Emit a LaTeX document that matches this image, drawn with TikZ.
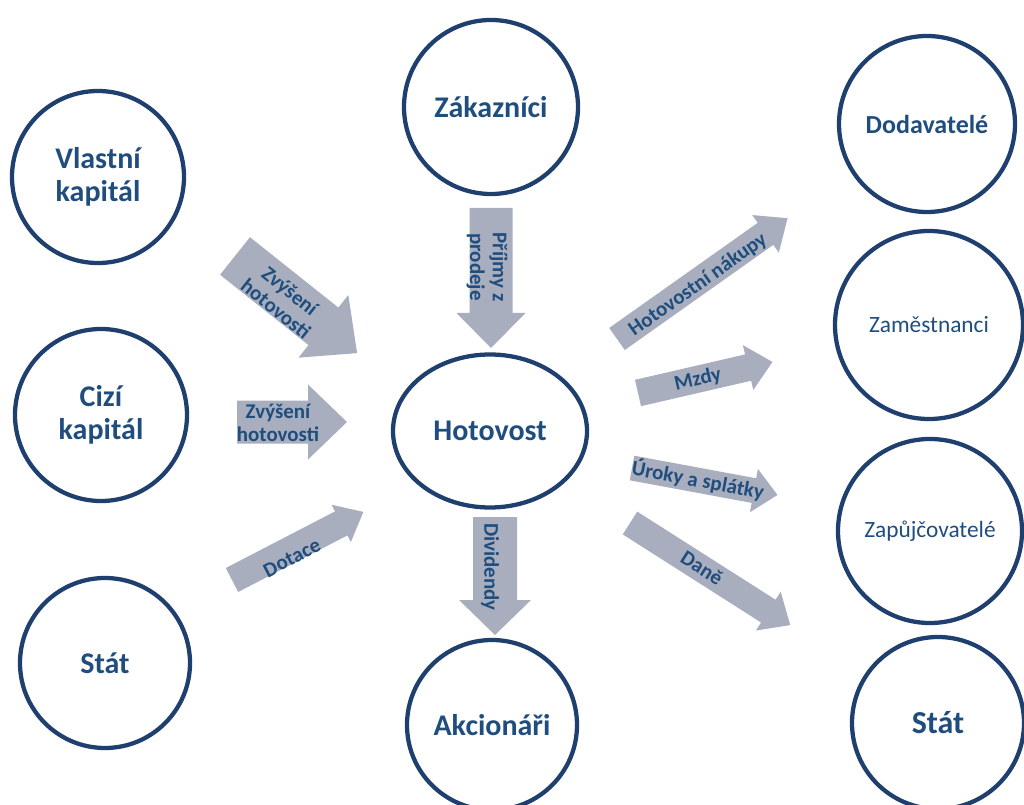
\documentclass[tikz,border=0pt]{standalone}
\usepackage{fontspec}
\setmainfont{Carlito}
\usetikzlibrary{shapes.geometric}
\definecolor{ringblue}{HTML}{1F3F6E}
\definecolor{textblue}{HTML}{1F4E7E}
\definecolor{flowgray}{HTML}{A8AEBE}

% block arrow: tail centre, angle, total length, shaft width, head width, head length
\newcommand\flowarrow[6]{%
  \fill[flowgray, shift={#1}, rotate=#2]
    (0,-#4/2) -- ({#3-#6},-#4/2) -- ({#3-#6},-#5/2) -- (#3,0)
    -- ({#3-#6},#5/2) -- ({#3-#6},#4/2) -- (0,#4/2) -- cycle;}

\begin{document}
\begin{tikzpicture}[x=0.75pt, y=-0.75pt,
  ring/.style={circle, draw=ringblue, line width=3.2pt, minimum size=#1*1.5pt,
    inner sep=0pt, align=center, text=textblue,
    font=\bfseries\fontsize{22.5}{25}\selectfont},
  oval/.style={ellipse, draw=ringblue, line width=3.2pt, inner sep=0pt,
    text=textblue, font=\bfseries\fontsize{22.5}{25}\selectfont},
  flowtext/.style={text=textblue, align=center, inner sep=0pt,
    font=\bfseries\fontsize{15.7}{17}\selectfont}]
\useasboundingbox (0,0) rectangle (1024,805);

% flows into and out of cash
\flowarrow{(235,256)}{-38.5}{156}{48}{80}{43}
\flowarrow{(491,208)}{-90}{140}{43}{69}{35}
\flowarrow{(617,339)}{35.3}{209}{27}{46}{27}
\flowarrow{(638,393)}{13}{138}{27}{46}{25}
\flowarrow{(632,468)}{-10.5}{148}{25}{44}{24}
\flowarrow{(630,523)}{-32.5}{190}{27}{46}{26}
\flowarrow{(237,422)}{0}{110}{43}{75}{39}
\flowarrow{(232,580)}{27.4}{148}{27}{42}{25}
\flowarrow{(495,517)}{-90}{118}{44}{72}{35}

\node[flowtext, rotate=-38.5] (t1) at (283,300) {Zvýšení\\hotovosti};
\node[flowtext, rotate=-90] (t2) at (487,267) {Příjmy z\\prodeje};
\node[flowtext, rotate=35.3] (t3) at (698,285) {Hotovostní nákupy};
\node[flowtext, rotate=13] (t4) at (698,380) {Mzdy};
\node[flowtext, rotate=-10.5] (t5) at (698,480) {Úroky a splátky};
\node[flowtext, rotate=-32.5] (t6) at (702,568) {Daně};
\node[flowtext] (t7) at (278,423) {Zvýšení\\hotovosti};
\node[flowtext, rotate=27.4] (t8) at (292,558) {Dotace};
\node[flowtext, rotate=-90] (t9) at (490,567) {Dividendy};

% parties
\node[ring=86] (vlastni) at (98,177) {Vlastní\\kapitál};
\node[ring=86] (cizi) at (101,415) {Cizí\\kapitál};
\node[ring=85] (statL) at (105,663) {Stát};
\node[ring=87] (zakaznici) at (491,107) {Zákazníci};
\node[oval, minimum width=194*0.75pt, minimum height=153*0.75pt] (hotovost) at (490,431) {Hotovost};
\node[ring=85] (akcionari) at (492,725) {Akcionáři};
\node[ring=88, font=\bfseries\fontsize{19.5}{22}\selectfont] (dodavatele) at (927,124) {Dodavatelé};
\node[ring=94, font=\fontsize{17.5}{20}\selectfont] (zamestnanci) at (929,325) {Zaměstnanci};
\node[ring=92, font=\fontsize{17.5}{20}\selectfont] (zapujcovatele) at (930,531) {Zapůjčovatelé};
\node[ring=86, font=\bfseries\fontsize{24}{27}\selectfont] (statR) at (938,723) {Stát};
\end{tikzpicture}
\end{document}
